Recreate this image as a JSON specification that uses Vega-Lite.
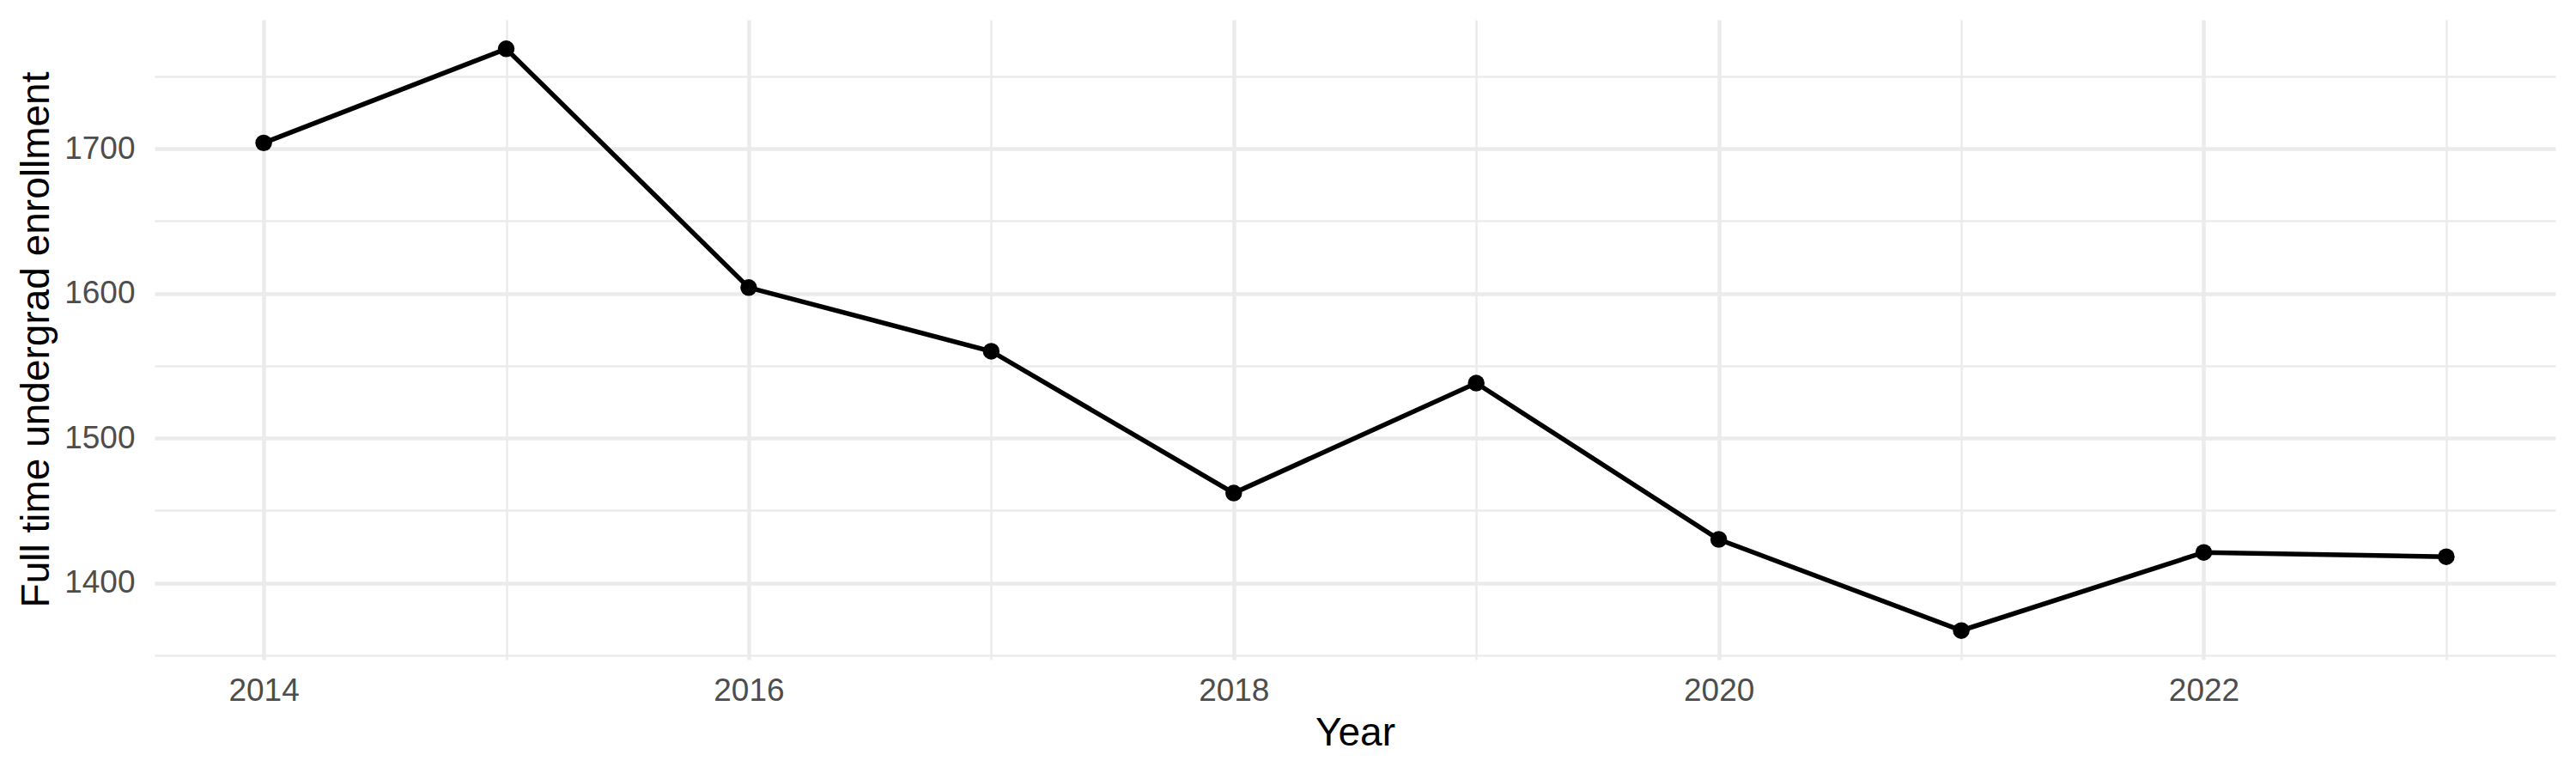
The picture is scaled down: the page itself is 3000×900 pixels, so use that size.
{
  "$schema": "https://vega.github.io/schema/vega-lite/v6.json",
  "width": 2796,
  "height": 745,
  "autosize": {"type": "none"},
  "padding": {"left": 180, "top": 23, "right": 24, "bottom": 132},
  "background": "white",
  "config": {"view": {"stroke": null}, "font": "Liberation Sans"},
  "data": {
    "values": [
      {"Year": 2014, "Enrollment": 1704},
      {"Year": 2015, "Enrollment": 1769},
      {"Year": 2016, "Enrollment": 1604},
      {"Year": 2017, "Enrollment": 1560},
      {"Year": 2018, "Enrollment": 1462},
      {"Year": 2019, "Enrollment": 1538},
      {"Year": 2020, "Enrollment": 1430},
      {"Year": 2021, "Enrollment": 1367},
      {"Year": 2022, "Enrollment": 1421},
      {"Year": 2023, "Enrollment": 1418}
    ]
  },
  "encoding": {
    "x": {
      "field": "Year",
      "type": "quantitative",
      "scale": {"domain": [2013.55, 2023.45], "nice": false, "zero": false},
      "axis": {
        "title": "Year",
        "titleFontSize": 46,
        "titleFontWeight": "normal",
        "titleColor": "black",
        "titleBaseline": "alphabetic",
        "titleY": 99,
        "values": [2014, 2015, 2016, 2017, 2018, 2019, 2020, 2021, 2022, 2023],
        "format": "d",
        "labelExpr": "datum.value % 2 === 0 ? datum.label : ''",
        "labelFontSize": 37,
        "labelColor": "#4D4D4D",
        "labelBaseline": "alphabetic",
        "labelPadding": 47,
        "labelFlush": false,
        "labelOverlap": false,
        "ticks": false,
        "tickSize": 0,
        "domain": false,
        "grid": true,
        "gridColor": "#EBEBEB",
        "gridWidth": {"condition": {"test": "datum.value % 2 === 0", "value": 4.5}, "value": 2.5}
      }
    },
    "y": {
      "field": "Enrollment",
      "type": "quantitative",
      "scale": {"domain": [1346.9, 1789.1], "nice": false, "zero": false},
      "axis": {
        "title": "Full time undergrad enrollment",
        "titleFontSize": 46,
        "titleFontWeight": "normal",
        "titleColor": "black",
        "titleAngle": 270,
        "titleBaseline": "alphabetic",
        "titleAlign": "center",
        "titleX": -124,
        "titleY": 372,
        "values": [1350, 1400, 1450, 1500, 1550, 1600, 1650, 1700, 1750],
        "format": "d",
        "labelExpr": "datum.value % 100 === 0 ? datum.label : ''",
        "labelFontSize": 37,
        "labelColor": "#4D4D4D",
        "labelPadding": 23,
        "labelFlush": false,
        "labelOverlap": false,
        "ticks": false,
        "tickSize": 0,
        "domain": false,
        "grid": true,
        "gridColor": "#EBEBEB",
        "gridWidth": {"condition": {"test": "datum.value % 100 === 0", "value": 4.5}, "value": 2.5}
      }
    }
  },
  "layer": [
    {"mark": {"type": "line", "color": "black", "strokeWidth": 5.5}},
    {"mark": {"type": "point", "filled": true, "color": "black", "size": 380, "opacity": 1}}
  ]
}
